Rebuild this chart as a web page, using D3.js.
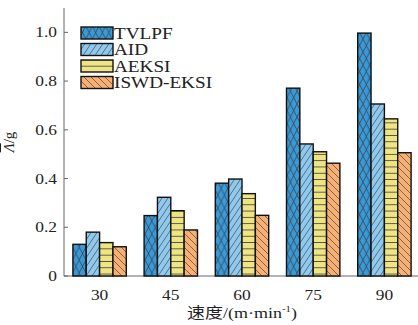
<!DOCTYPE html>
<html><head><meta charset="utf-8">
<script src="https://cdn.jsdelivr.net/npm/d3@7"></script>
<style>
body{margin:0;background:#fff;}
</style></head>
<body><svg id="c" width="418" height="325"></svg>
<script>
const categories = ["30","45","60","75","90"];
const seriesNames = ["TVLPF","AID","AEKSI","ISWD-EKSI"];
const TVLPF = [0.13,0.248,0.381,0.771,0.997];
const AID = [0.18,0.323,0.398,0.542,0.706];
const AEKSI = [0.137,0.268,0.338,0.51,0.645];
const ISWD = [0.12,0.189,0.249,0.463,0.506];
const yTicks = [0,0.2,0.4,0.6,0.8,1.0];
const seriesVals = [TVLPF,AID,AEKSI,ISWD];
const colors = ["#3a9ad8","#8fcaee","#eee483","#f6b073"];
const SERIF = "'Liberation Serif'";
const SX = 1.2;

const svg = d3.select("#c");
const m = {l:64, t:8, b:276, r:420};
const x = d3.scaleBand().domain(categories).range([m.l, m.r]).paddingInner(0.25).paddingOuter(0.125);
const xs = d3.scaleBand().domain(seriesNames).range([0, x.bandwidth()]);
const y = d3.scaleLinear().domain([0,1.1]).range([m.b, m.t]);

function txt(px, py, anchor, size, rot){
  return svg.append("text")
    .attr("transform",`translate(${px},${py})${rot?" rotate(-90)":" scale("+SX+",1)"}`)
    .attr("text-anchor",anchor).style("font-family",SERIF).style("font-size",size+"px").attr("fill","#222");
}

const defs = svg.append("defs");
const hc = "#333";
function pat(id, w, h, draw){
  const p = defs.append("pattern").attr("id",id).attr("patternUnits","userSpaceOnUse").attr("width",w).attr("height",h);
  draw(p);
}
pat("p0",6.6,13,p=>{
  p.append("rect").attr("width",6.6).attr("height",13).attr("fill",colors[0]);
  p.append("path").attr("d","M0,0L6.6,13M6.6,0L0,13").attr("stroke",hc).attr("stroke-width",0.7);
});
pat("p1",6,9,p=>{
  p.append("rect").attr("width",6).attr("height",9).attr("fill",colors[1]);
  p.append("path").attr("d","M0,9L6,0M-6,9L0,0M6,9L12,0").attr("stroke",hc).attr("stroke-width",0.6);
});
pat("p2",10,6.3,p=>{
  p.append("rect").attr("width",10).attr("height",6.3).attr("fill",colors[2]);
  p.append("path").attr("d","M0,3.15L10,3.15").attr("stroke",hc).attr("stroke-width",0.8);
});
pat("p3",7,7,p=>{
  p.append("rect").attr("width",7).attr("height",7).attr("fill",colors[3]);
  p.append("path").attr("d","M0,0L7,7M-7,0L0,7M7,0L14,7").attr("stroke",hc).attr("stroke-width",0.6);
});

svg.append("line").attr("x1",m.l).attr("x2",418).attr("y1",m.b).attr("y2",m.b).attr("stroke","#666").attr("stroke-width",1);
svg.append("line").attr("x1",m.l).attr("x2",m.l).attr("y1",m.t).attr("y2",m.b).attr("stroke","#666").attr("stroke-width",1);
yTicks.forEach(t=>{
  svg.append("line").attr("x1",m.l).attr("x2",m.l+4).attr("y1",y(t)).attr("y2",y(t)).attr("stroke","#666");
  txt(m.l-7, y(t)+5, "end", 14.5).text(t===0?"0":t.toFixed(1));
});
categories.forEach(c=>{
  txt(x(c)+x.bandwidth()/2, 300, "middle", 14.5).text(c);
});

seriesNames.forEach((s,i)=>{
  svg.append("g").selectAll("rect").data(categories).join("rect")
    .attr("x",c=>x(c)+xs(s)).attr("width",xs.bandwidth())
    .attr("y",(c,j)=>y(seriesVals[i][j])).attr("height",(c,j)=>m.b-y(seriesVals[i][j]))
    .attr("fill",`url(#p${i})`).attr("stroke","#111").attr("stroke-width",1.4);
});

seriesNames.forEach((s,i)=>{
  const yy = 27 + i*16.5;
  svg.append("rect").attr("x",81).attr("y",yy).attr("width",32).attr("height",12)
    .attr("fill",`url(#p${i})`).attr("stroke","#111").attr("stroke-width",1.4);
  txt(114, yy+11.5, "start", 16).text(s);
});

const yl = txt(13.5, 142, "middle", 15, true);
yl.append("tspan").style("font-style","italic").attr("text-decoration","overline").text("Λ");
yl.append("tspan").text("/g");

const xl = txt(242, 318, "middle", 15);
xl.append("tspan").style("font-family","'Noto Sans CJK SC'").text("速度");
xl.append("tspan").text("/(m·min");
xl.append("tspan").style("font-size","9px").attr("dy",-6).text("-1");
xl.append("tspan").attr("dy",6).text(")");
</script></body></html>
